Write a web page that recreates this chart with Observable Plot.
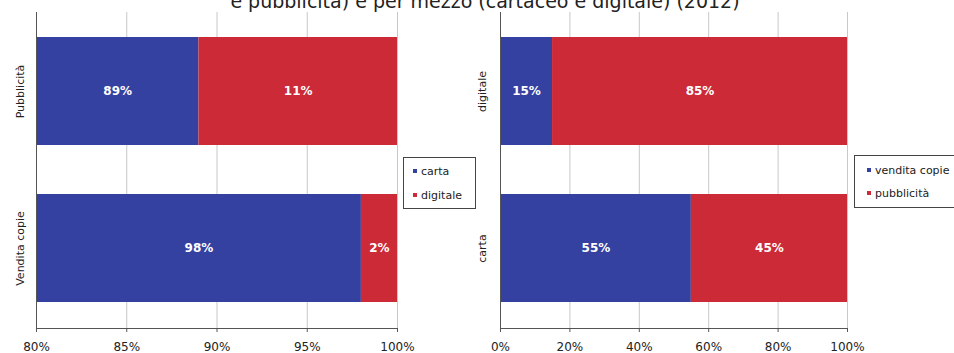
<!DOCTYPE html>
<html><head><meta charset="utf-8">
<script src="https://cdn.jsdelivr.net/npm/d3@7"></script>
<script src="https://cdn.jsdelivr.net/npm/@observablehq/plot@0.6"></script>
<style>
body{margin:0;background:#fff;font-family:"DejaVu Sans",Verdana,sans-serif}
#root{position:relative;width:954px;height:353px;overflow:hidden;background:#fff}
.title{position:absolute;left:8px;width:954px;text-align:center;top:-8px;font-size:19px;line-height:19px;color:#222;white-space:nowrap}
.panel{position:absolute;top:0}
.legend{position:absolute;background:#fff;border:1px solid #444;font-size:11px;color:#222;box-sizing:border-box;white-space:nowrap}
.legend .item{position:absolute;height:14px;line-height:14px}
.legend .sw{display:inline-block;width:4px;height:4px;margin-right:4px;vertical-align:middle;position:relative;top:-1px}
</style></head><body>
<div id="root">
  <div class="title">e pubblicità) e per mezzo (cartaceo e digitale) (2012)</div>
  <div id="left" class="panel" style="left:0"></div>
  <div id="right" class="panel" style="left:480px"></div>
  <div id="legL" class="legend" style="left:403px;top:157px;width:73px;height:52px"></div>
  <div id="legR" class="legend" style="left:854px;top:155px;width:120px;height:53px"></div>
</div>
<script>
// ---- data ----
const leftCategories = ["Pubblicità", "Vendita copie"];
const leftSeries = ["carta", "digitale"];
const leftCarta = [89, 98];
const leftDigitale = [11, 2];
const leftTicks = [80, 85, 90, 95, 100];

const rightCategories = ["digitale", "carta"];
const rightSeries = ["vendita copie", "pubblicità"];
const rightVendita = [15, 55];
const rightPubblicita = [85, 45];
const rightTicks = [0, 20, 40, 60, 80, 100];

const seriesColors = ["#3441a0", "#cc2a37"];

function buildRows(cats, series, valueLists, domainMin) {
  const rows = [];
  cats.forEach((c, i) => {
    let cum = 0;
    series.forEach((s, j) => {
      const v = valueLists[j][i];
      const x1 = cum, x2 = cum + v;
      rows.push({cat: c, series: s, v, x1, x2, lx: (Math.max(x1, domainMin) + x2) / 2});
      cum = x2;
    });
  });
  return rows;
}

function panel(el, cats, series, valueLists, ticks, width, marginLeft, yPad) {
  const dom = [ticks[0], ticks[ticks.length - 1]];
  const rows = buildRows(cats, series, valueLists, dom[0]);
  const chart = Plot.plot({
    width, height: 353,
    marginLeft, marginRight: 3, marginTop: 12, marginBottom: 25,
    style: {fontFamily: '"DejaVu Sans", Verdana, sans-serif', background: "transparent", overflow: "visible"},
    x: {domain: dom},
    y: {domain: cats, paddingInner: 0.31, paddingOuter: 0.16},
    color: {domain: series, range: seriesColors},
    marks: [
      Plot.gridX(ticks, {stroke: "#c8c8c8", strokeOpacity: 1}),
      Plot.barX(rows, {x1: "x1", x2: "x2", y: "cat", fill: "series", clip: true}),
      Plot.text(rows, {x: "lx", y: "cat", text: d => d.v + "%", fill: "white", fontWeight: "bold", fontSize: 12}),
      Plot.frame({anchor: "left", stroke: "#555"}),
      Plot.frame({anchor: "bottom", stroke: "#555"}),
      Plot.axisX(ticks, {tickFormat: d => d + "%", tickSize: 4, tickPadding: 10, fontSize: 12, fill: "#222", stroke: "#555", label: null}),
      Plot.axisY({tickSize: 0, tickRotate: -90, tickPadding: yPad, fontSize: 11, fill: "#222", label: null})
    ]
  });
  document.getElementById(el).appendChild(chart);
}

panel("left", leftCategories, leftSeries, [leftCarta, leftDigitale], leftTicks, 400, 36, 13);
panel("right", rightCategories, rightSeries, [rightVendita, rightPubblicita], rightTicks, 370, 20, 15);

function legend(el, series, swLeft, rowsY) {
  const box = document.getElementById(el);
  series.forEach((s, i) => {
    const it = document.createElement("div");
    it.className = "item";
    it.style.left = swLeft + "px";
    it.style.top = rowsY[i] + "px";
    it.innerHTML = `<span class="sw" style="background:${seriesColors[i]}"></span>${s}`;
    box.appendChild(it);
  });
}
legend("legL", leftSeries, 9, [7, 31]);
legend("legR", rightSeries, 12, [8, 31]);
</script>
</body></html>
